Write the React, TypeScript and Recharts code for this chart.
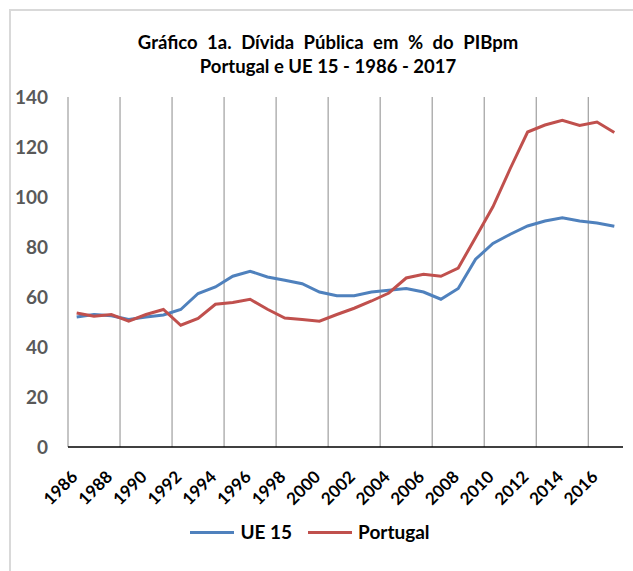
import React from 'react';
import { LineChart, Line, XAxis, YAxis, ReferenceLine } from 'recharts';

const years = [
  1986, 1987, 1988, 1989, 1990, 1991, 1992, 1993, 1994, 1995, 1996, 1997, 1998, 1999, 2000, 2001,
  2002, 2003, 2004, 2005, 2006, 2007, 2008, 2009, 2010, 2011, 2012, 2013, 2014, 2015, 2016, 2017,
];
const ue15 = [
  52, 53, 52.5, 51, 52, 52.8, 55, 61.4, 64, 68.3, 70.3, 68, 66.7, 65.3, 62, 60.5,
  60.5, 62, 62.7, 63.4, 62, 59.1, 63.4, 75.1, 81.4, 85.1, 88.4, 90.4, 91.7, 90.4, 89.6, 88.3,
];
const portugal = [
  53.6, 52.3, 53, 50.3, 53, 55, 48.7, 51.4, 57.1, 57.8, 59.1, 55.1, 51.6, 51, 50.3, 53,
  55.5, 58.4, 61.6, 67.6, 69.1, 68.3, 71.6, 83.8, 96.1, 111.4, 126, 128.8, 130.7, 128.6, 130, 125.8,
];
const xTicks = [1986, 1988, 1990, 1992, 1994, 1996, 1998, 2000, 2002, 2004, 2006, 2008, 2010, 2012, 2014, 2016];
const yTicks = [0, 20, 40, 60, 80, 100, 120, 140];

const FONT = 'Lato, "Open Sans", sans-serif';
const BLUE = '#4f81bd';
const RED = '#c0504d';

const data = years.map((year, i) => ({ year, ue15: ue15[i], portugal: portugal[i] }));
// gridlines sit on category boundaries, one every 3 years
const gridBounds = years.filter((_, i) => i % 3 === 0).map((y) => y - 0.5);

function XTick({ x, y, payload }: any) {
  const px = x + 2;
  const py = y + 23;
  return (
    <text
      x={px}
      y={py}
      transform={`rotate(-45 ${px} ${py})`}
      textAnchor="end"
      fontFamily={FONT}
      fontWeight="bold"
      fontSize={17}
      fill="#000"
    >
      {payload.value}
    </text>
  );
}

function YTick({ x, y, payload }: any) {
  return (
    <text
      x={x - 20}
      y={y}
      dy="0.36em"
      textAnchor="end"
      fontFamily={FONT}
      fontWeight="bold"
      fontSize={19}
      fill="#595959"
    >
      {payload.value}
    </text>
  );
}

const legendItems = [
  { name: 'UE 15', color: BLUE },
  { name: 'Portugal', color: RED },
];

export default function App() {
  return (
    <div style={{ position: 'absolute', left: 0, top: 0, width: 633, height: 571, overflow: 'hidden', background: '#fff' }}>
      <div
        style={{
          position: 'absolute',
          left: 9,
          top: 9,
          width: 660,
          height: 600,
          border: '2px solid #d9d9d9',
        }}
      />
      <div
        style={{
          position: 'absolute',
          left: 0,
          top: 30,
          width: 656,
          textAlign: 'center',
          fontFamily: FONT,
          fontWeight: 'bold',
          fontSize: 18.5,
          lineHeight: '24px',
          color: '#000',
        }}
      >
        <div style={{ wordSpacing: 5 }}>Gráfico 1a. Dívida Pública em % do PIBpm</div>
        <div>Portugal e UE 15 - 1986 - 2017</div>
      </div>
      <div style={{ position: 'absolute', left: 0, top: 0 }}>
        <LineChart width={633} height={571} data={data} margin={{ top: 97, right: 10, bottom: 0, left: 0 }}>
          <XAxis
            dataKey="year"
            type="number"
            domain={[1985.5, 2017.5]}
            ticks={xTicks}
            interval={0}
            height={124}
            tickLine={false}
            axisLine={{ stroke: '#000', strokeWidth: 1.5 }}
            tick={<XTick />}
          />
          <YAxis
            domain={[0, 140]}
            ticks={yTicks}
            width={68}
            tickSize={0}
            tickMargin={0}
            axisLine={false}
            tickLine={false}
            tick={<YTick />}
          />
          {gridBounds.map((b) => (
            <ReferenceLine key={b} x={b} stroke="#a6a6a6" strokeWidth={1.3} ifOverflow="extendDomain" />
          ))}
          <Line type="linear" dataKey="ue15" name="UE 15" stroke={BLUE} strokeWidth={3} dot={false} isAnimationActive={false} />
          <Line type="linear" dataKey="portugal" name="Portugal" stroke={RED} strokeWidth={3} dot={false} isAnimationActive={false} />
        </LineChart>
      </div>
      <div
        style={{
          position: 'absolute',
          left: 0,
          top: 520,
          width: 620,
          display: 'flex',
          justifyContent: 'center',
          alignItems: 'center',
          gap: 16,
        }}
      >
        {legendItems.map((it) => (
          <div key={it.name} style={{ display: 'flex', alignItems: 'center', gap: 6 }}>
            <div style={{ width: 44, height: 3, background: it.color }} />
            <span style={{ fontFamily: FONT, fontWeight: 'bold', fontSize: 19, lineHeight: '24px', color: '#000' }}>{it.name}</span>
          </div>
        ))}
      </div>
    </div>
  );
}
